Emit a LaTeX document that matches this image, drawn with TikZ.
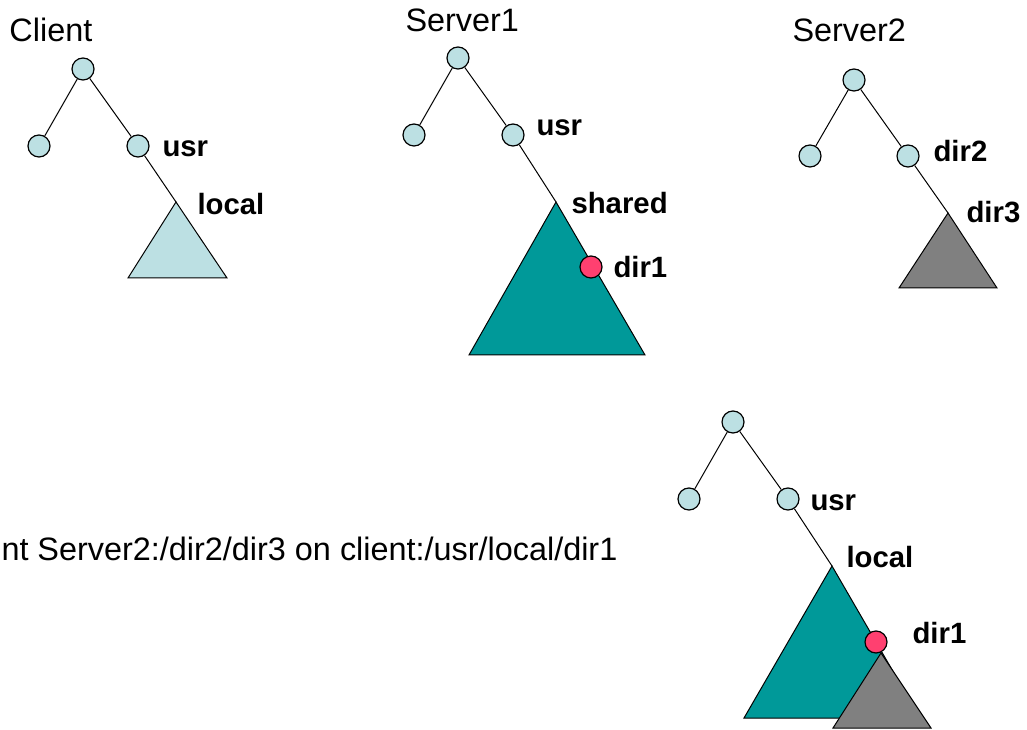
\documentclass[tikz,border=0pt]{standalone}
\usepackage{fontspec}
\setmainfont{Liberation Sans}
\definecolor{dirblue}{RGB}{188,224,227}
\definecolor{shareteal}{RGB}{0,153,153}
\definecolor{exportgray}{RGB}{128,128,128}
\definecolor{mountred}{RGB}{255,64,112}
\tikzset{
  dirnode/.style={circle,draw=black,fill=dirblue,line width=0.9pt,minimum size=16.5pt,inner sep=0pt},
  mountnode/.style={dirnode,fill=mountred},
  hostlabel/.style={anchor=base west,inner sep=0pt,font=\fontsize{24.3}{28}\selectfont},
  dirlabel/.style={anchor=base west,inner sep=0pt,font=\fontsize{22}{26}\selectfont\bfseries},
  subtree/.style={draw=black,line width=0.75pt}
}
\begin{document}
\begin{tikzpicture}[x=0.75pt,y=-0.75pt,line width=0.75pt]
        \useasboundingbox (0,0) rectangle (1027,730);

        % Arbol del cliente.
        \node[hostlabel] (clientname) at (9,42) {Client};
        \node[dirnode] (croot) at (83,69) {};
        \node[dirnode] (cleft) at (39,146) {};
        \node[dirnode] (cusr) at (138,146) {};
        \coordinate (clocal) at (176,202);
        \draw[subtree,fill=dirblue] (clocal) -- (227,278) -- (128,278) -- cycle;
        \draw (croot) -- (cleft);
        \draw (croot) -- (cusr);
        \draw (cusr) -- (clocal);
        \node[dirlabel] (cusrlabel) at (162,157) {usr};
        \node[dirlabel] (clocallabel) at (197,215) {local};

        % Arbol de Server1, con el directorio compartido.
        \node[hostlabel] (sonename) at (405,32) {Server1};
        \node[dirnode] (sroot) at (458,58) {};
        \node[dirnode] (sleft) at (414,135) {};
        \node[dirnode] (susr) at (513,135) {};
        \coordinate (sshared) at (556,202);
        \draw[subtree,fill=shareteal] (sshared) -- (645,355) -- (469,355) -- cycle;
        \draw (sroot) -- (sleft);
        \draw (sroot) -- (susr);
        \draw (susr) -- (sshared);
        \node[mountnode] (sdirone) at (591,267) {};
        \node[dirlabel] (susrlabel) at (536,136) {usr};
        \node[dirlabel] (ssharedlabel) at (571,214) {shared};
        \node[dirlabel] (sdironelabel) at (613,278) {dir1};

        % Arbol de Server2.
        \node[hostlabel] (stwoname) at (792,42) {Server2};
        \node[dirnode] (troot) at (854,80) {};
        \node[dirnode] (tleft) at (810,156) {};
        \node[dirnode] (tdirtwo) at (908,156) {};
        \coordinate (tdirthree) at (948,213);
        \draw[subtree,fill=exportgray] (tdirthree) -- (997,288) -- (899,288) -- cycle;
        \draw (troot) -- (tleft);
        \draw (troot) -- (tdirtwo);
        \draw (tdirtwo) -- (tdirthree);
        \node[dirlabel] (tdirtwolabel) at (933,162) {dir2};
        \node[dirlabel] (tdirthreelabel) at (966,223) {dir3};

        % La orden de montaje.
        \node[hostlabel] (mountcmd) at (1,560) {nt Server2:/dir2/dir3 on client:/usr/local/dir1};

        % Arbol del cliente despues del montaje.
        \node[dirnode] (mroot) at (733,422) {};
        \node[dirnode] (mleft) at (689,499) {};
        \node[dirnode] (musr) at (788,499) {};
        \coordinate (mlocal) at (832,566);
        \coordinate (mdirthree) at (881,653);
        \draw[subtree,fill=shareteal] (mlocal) -- (920,718) -- (744,718) -- cycle;
        \draw[subtree,fill=exportgray] (mdirthree) -- (931,728) -- (833,728) -- cycle;
        \node[mountnode] (mdirone) at (876,642) {};
        \draw (mroot) -- (mleft);
        \draw (mroot) -- (musr);
        \draw (musr) -- (mlocal);
        \node[dirlabel] (musrlabel) at (810,510) {usr};
        \node[dirlabel] (mlocallabel) at (846,567) {local};
        \node[dirlabel] (mdironelabel) at (912,643) {dir1};
    \end{tikzpicture}
\end{document}
